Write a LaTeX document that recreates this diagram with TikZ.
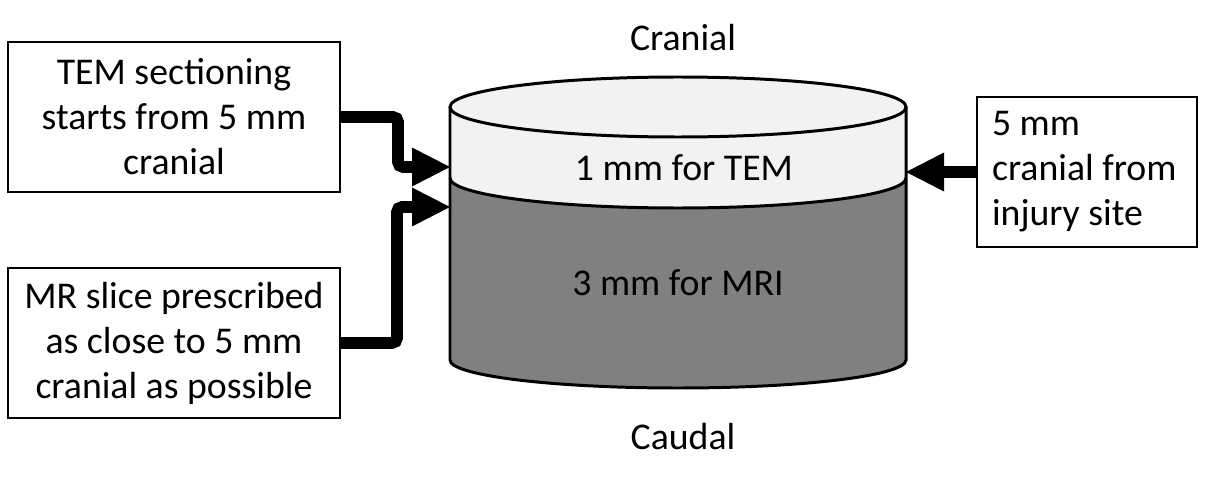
\documentclass[tikz,border=0pt]{standalone}
\usepackage{fontspec}
\setmainfont{Carlito}
\usetikzlibrary{arrows.meta}

\definecolor{temfill}{HTML}{F2F2F2}
\definecolor{mrifill}{HTML}{808080}

\tikzset{
	textbox/.style={draw, line width=1.2pt, minimum height=3cm, inner xsep=0.2cm, align=flush center},
	feed/.style={->, line width=6.8pt, rounded corners=3pt},
	rim/.style={line width=1.7pt}
}

\begin{document}
\begin{tikzpicture}[x=0.02cm, y=-0.02cm, every node/.style={font=\fontsize{21.5}{25.6}\selectfont}, >={Triangle[length=0.76cm, width=0.78cm, line width=0pt]}]
	\useasboundingbox (0,0) rectangle (1207,483);
	% cylinder: 1 mm slab on top, 3 mm slab below
	\fill[temfill] (450,107) -- (450,178) arc[start angle=180, end angle=0, x radius=228, y radius=30] -- (906,107) -- cycle;
	\fill[mrifill] (450,178) arc[start angle=180, end angle=0, x radius=228, y radius=30] -- (906,360) arc[start angle=0, end angle=180, x radius=228, y radius=28] -- cycle;
	\draw[rim] (450,178) arc[start angle=180, end angle=0, x radius=228, y radius=30];
	\draw[rim] (450,107) -- (450,360) arc[start angle=180, end angle=0, x radius=228, y radius=28] -- (906,107);
	\draw[rim, fill=temfill] (678,107) ellipse[x radius=228, y radius=30];
	\node (tem) at (684,168) {1 mm for TEM};
	\node (mri) at (678,283) {3 mm for MRI};
	\node (cranial) at (683,38) {Cranial};
	\node (caudal) at (683,437) {Caudal};
	\coordinate (temin) at (450,167);
	\coordinate (mriin) at (450,207);
	\coordinate (sitein) at (906,172);
	% boxes
	\node[textbox, text width=6.24cm] (temcut) at (174,117) {TEM sectioning\\starts from 5 mm\\cranial};
	\node[textbox, text width=6.24cm] (mrslice) at (174,343) {MR slice prescribed\\as close to 5 mm\\cranial as possible};
	\node[textbox, text width=3.8cm, inner xsep=0.3cm, align=flush left] (injury) at (1087,172) {5 mm\\cranial from\\injury site};
	% arrows
	\draw[feed] (temcut.east) -- ++(57,0) |- (temin);
	\draw[feed] (mrslice.east) -- ++(56,0) |- (mriin);
	\draw[feed] (injury.west) -- (sitein);
\end{tikzpicture}
\end{document}
